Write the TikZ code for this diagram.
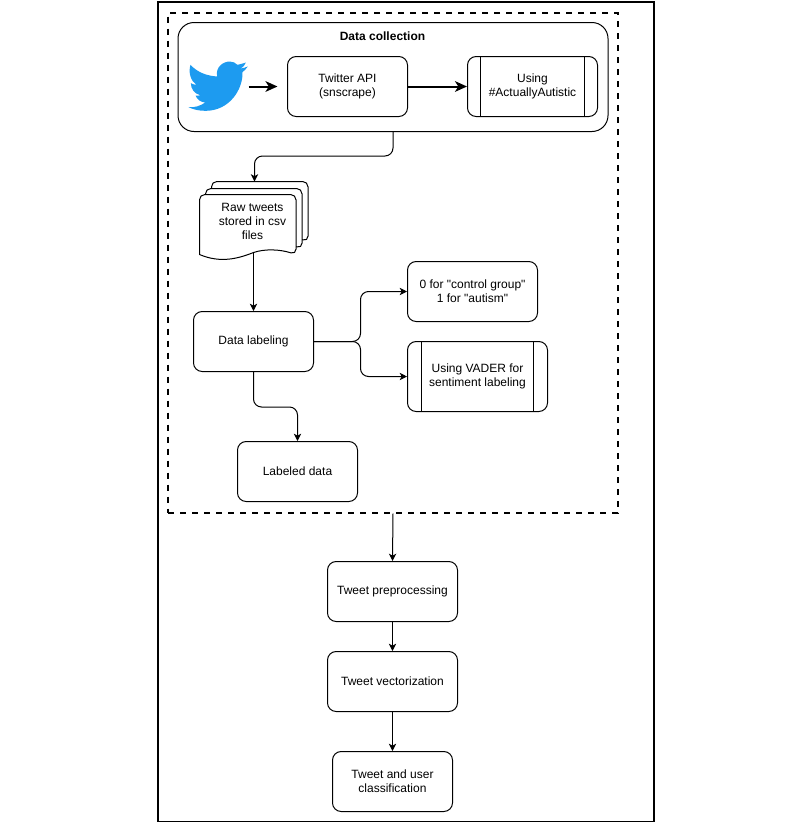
\documentclass[tikz,border=0pt]{standalone}
\usepackage{fontspec}
\usetikzlibrary{arrows.meta}
\setmainfont[Ligatures=TeXOff]{Liberation Sans}
\definecolor{birdblue}{RGB}{29,155,240}
\begin{document}
\begin{tikzpicture}
[x=0.75pt,y=-0.75pt,
  boxdecorate/.style={shape=rectangle,draw,line width=0.75pt,rounded corners=6.5pt,inner sep=0pt,
    align=center,font=\fontsize{9}{10.5}\selectfont,fill=white},
  predefined/.style 2 args={path picture={
    \draw[line width=0.75pt] ([xshift=#1*0.75pt]path picture bounding box.north west)
      -- ([xshift=#1*0.75pt]path picture bounding box.south west);
    \draw[line width=0.75pt] ([xshift=-#2*0.75pt]path picture bounding box.north east)
      -- ([xshift=-#2*0.75pt]path picture bounding box.south east);}},
  arrowdecorate/.style={-{Stealth[length=5.5pt,width=5.5pt,inset=1.5pt]},line width=0.75pt},
  thickdecorate/.style={-{Stealth[length=9pt,width=8pt,inset=2.5pt]},line width=1.5pt}]
\useasboundingbox (-0.5,-0.5) rectangle (784.5,821.5);
%% frames
\node (frame) at (405.5,411) [draw,line width=1.5pt,minimum width=372pt,minimum height=615pt,inner sep=0pt] {};
\node (collect) at (392.5,262) [draw,dash pattern=on 4.5pt off 4.5pt,line width=1.5pt,minimum width=337.5pt,minimum height=375pt,inner sep=0pt] {};
\node (source) at (392.5,76.5) [boxdecorate,rounded corners=12pt,minimum width=322.5pt,minimum height=81.75pt] {};
\node (title) at (382,36) [font=\fontsize{9}{10.5}\selectfont\bfseries] {Data collection};
%% bird
\begin{scope}[shift={(180,50)},x=0.25pt,y=-0.25pt]
\fill[birdblue] (30,43) .. controls (50,65) and (78,76) .. (110,78)
  .. controls (104,50) and (128,33) .. (148,33)
  .. controls (157,33) and (165,37) .. (171,43)
  .. controls (180,41) and (188,39) .. (196,36)
  .. controls (193,44) and (188,50) .. (181,54)
  .. controls (188,53) and (195,51) .. (202,48)
  .. controls (197,55) and (192,60) .. (186,65)
  .. controls (188,115) and (148,181) .. (75,181)
  .. controls (55,181) and (38,177) .. (24,170)
  .. controls (42,172) and (60,166) .. (74,156)
  .. controls (60,155) and (50,147) .. (45,135)
  .. controls (50,136) and (55,136) .. (59,134)
  .. controls (42,130) and (31,115) .. (31,98)
  .. controls (36,101) and (42,103) .. (48,103)
  .. controls (30,91) and (23,65) .. (30,43) -- cycle;
\end{scope}
\coordinate (birdtip) at (248,86);
\coordinate (apitip) at (277,86);
%% stacked documents
\foreach \dx/\dy in {12/-13, 6/-6, 0/0}
{
  \begin{scope}[shift={(\dx,\dy)}]
  \draw[line width=0.75pt,fill=white,rounded corners=4pt] (199,254) -- (199,194) -- (295.5,194) -- (295.5,254)
    [sharp corners] .. controls (280,249) and (265,248) .. (253,252) .. controls (238,258) and (220,263) .. (199,254) -- cycle;
  \end{scope}
}
\coordinate (rawtop) at (254,181);
\node (raw) at (252,221) [align=center,font=\fontsize{9}{10.5}\selectfont,inner sep=0pt] {Raw tweets\\stored in csv\\files};
\coordinate (rawbottom) at (253,252);
%% boxes
\foreach \nodename/\x/\y/\w/\h/\txt in {api/347/86/90/45/{Twitter API\\(snscrape)},
  label/253/341/90/45/{Data labeling}, control/472/291/97.5/45/{0 for "control group"\\1 for "autism"},
  labeled/297/471/90/45/{Labeled data}, prep/392/591/97.5/45/{Tweet preprocessing},
  vector/392/681/97.5/45/{Tweet vectorization}, classify/392/781/90/45/{Tweet and user\\classification}}
{
  \node (\nodename) at (\x,\y) [boxdecorate,minimum width=\w pt,minimum height=\h pt] {\txt};
}
\node (using) at (532,86) [boxdecorate,predefined={13}{13},minimum width=97.5pt,minimum height=45pt] {Using\\\#ActuallyAutistic};
\node (vader) at (477,376) [boxdecorate,predefined={14}{14},minimum width=105pt,minimum height=52.5pt] {Using VADER for\\sentiment labeling};
\coordinate (split) at (360,341);
%% edges or lines
\draw[thickdecorate] (birdtip) -- (apitip);
\draw[thickdecorate] (api) -- (using);
\draw[arrowdecorate,rounded corners=6pt] (source.south) -- ++(0,24) -| (rawtop);
\draw[arrowdecorate,rounded corners=6pt] (label.south) -- ++(0,35) -| (labeled.north);
\draw[arrowdecorate,rounded corners=6pt] (label.east) -- (split) |- (control.west);
\draw[arrowdecorate,rounded corners=6pt] (label.east) -- (split) |- (vader.west);
\path
\foreach \startnode/\endnode in {rawbottom/label.north, collect.south/prep.north, prep/vector, vector/classify} {
  (\startnode) edge[arrowdecorate] node {} (\endnode)
};
\end{tikzpicture}
\end{document}
